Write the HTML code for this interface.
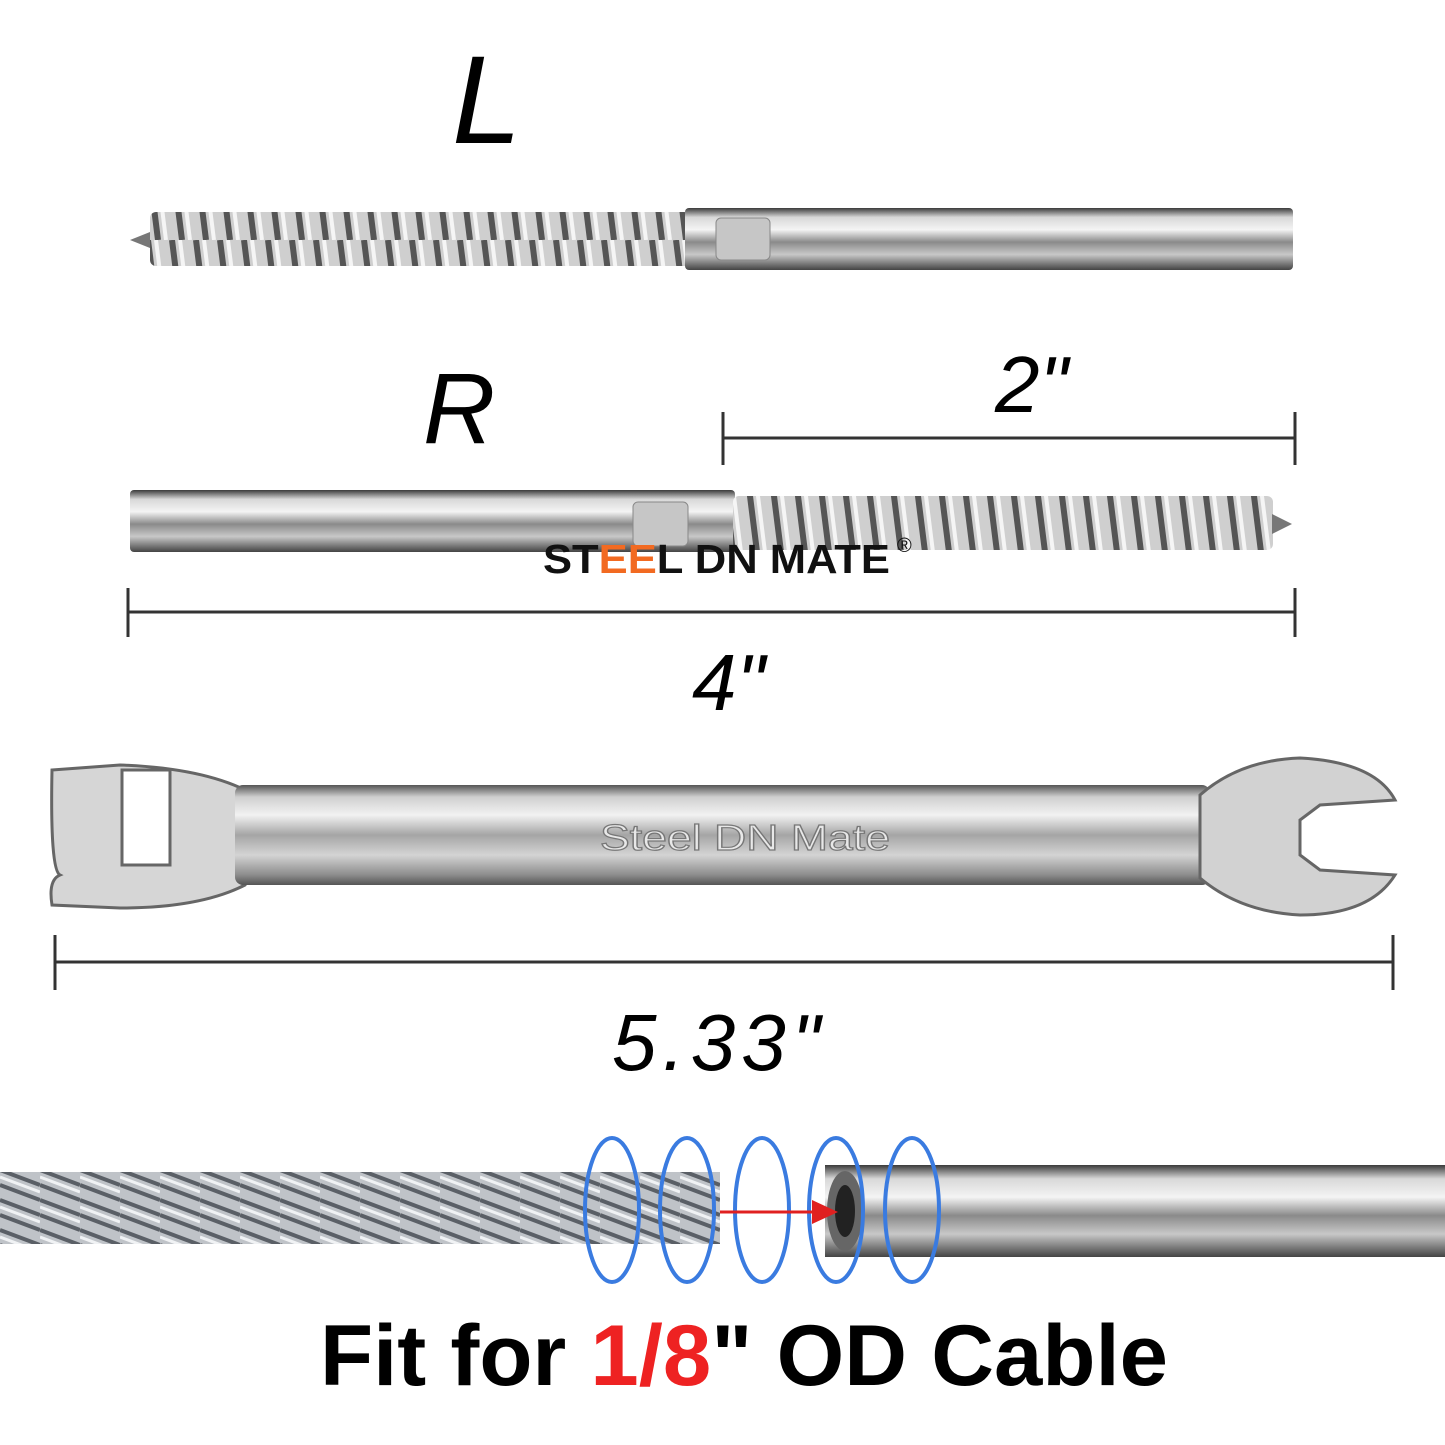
<!DOCTYPE html>
<html><head><style>
html,body{margin:0;padding:0;background:#fff}
svg{display:block}
</style></head><body>
<svg width="1445" height="1445" viewBox="0 0 1445 1445" xmlns="http://www.w3.org/2000/svg">
<defs>
<linearGradient id="tube" x1="0" y1="0" x2="0" y2="1">
<stop offset="0" stop-color="#3a3a3a"/><stop offset="0.15" stop-color="#d8d8d8"/><stop offset="0.35" stop-color="#f4f4f4"/><stop offset="0.55" stop-color="#8a8a8a"/><stop offset="0.75" stop-color="#c8c8c8"/><stop offset="1" stop-color="#444"/>
</linearGradient>
<linearGradient id="bar" x1="0" y1="0" x2="0" y2="1">
<stop offset="0" stop-color="#555"/><stop offset="0.12" stop-color="#cfcfcf"/><stop offset="0.3" stop-color="#f2f2f2"/><stop offset="0.5" stop-color="#a5a5a5"/><stop offset="0.7" stop-color="#d4d4d4"/><stop offset="0.9" stop-color="#8c8c8c"/><stop offset="1" stop-color="#555"/>
</linearGradient>
<pattern id="thr" width="24" height="80" patternUnits="userSpaceOnUse">
<rect width="24" height="80" fill="#cfcfcf"/>
<path d="M4 0 L14 80" stroke="#555" stroke-width="6"/>
<path d="M12 0 L22 80" stroke="#f5f5f5" stroke-width="4"/>
</pattern>
<pattern id="cab" width="40" height="90" patternUnits="userSpaceOnUse">
<rect width="40" height="90" fill="#bfc3c8"/>
<path d="M0 0 L40 15 M0 15 L40 30 M0 30 L40 45 M0 45 L40 60 M0 60 L40 75 M0 75 L40 90" stroke="#5a5f66" stroke-width="4"/>
<path d="M0 7 L40 22 M0 37 L40 52 M0 67 L40 82" stroke="#f0f2f4" stroke-width="3"/>
</pattern>
</defs>

<g font-family="Liberation Sans, sans-serif" font-style="italic" fill="#000">
<text x="452" y="143" font-size="125">L</text>
<text x="423" y="443" font-size="100">R</text>
<text x="995" y="412" font-size="80">2"</text>
<text x="692" y="710" font-size="80">4"</text>
<text x="612" y="1070" font-size="80" letter-spacing="6">5.33"</text>
</g>

<polygon points="130,240 150,232 150,248" fill="#777"/>
<rect x="150" y="212" width="540" height="54" fill="url(#thr)" rx="6"/>
<rect x="685" y="208" width="608" height="62" fill="url(#tube)" rx="4"/>
<rect x="716" y="218" width="54" height="42" fill="#c6c6c6" rx="5" stroke="#888"/>

<line x1="723" y1="438" x2="1295" y2="438" stroke="#333" stroke-width="3"/>
<line x1="723" y1="412" x2="723" y2="465" stroke="#333" stroke-width="3"/>
<line x1="1295" y1="412" x2="1295" y2="465" stroke="#333" stroke-width="3"/>

<rect x="130" y="490" width="605" height="62" fill="url(#tube)" rx="4"/>
<rect x="633" y="502" width="55" height="44" fill="#c6c6c6" rx="5" stroke="#888"/>
<rect x="733" y="496" width="540" height="54" fill="url(#thr)" rx="6"/>
<polygon points="1272,514 1292,524 1272,534" fill="#777"/>

<text x="543" y="573" font-family="Liberation Sans, sans-serif" font-weight="bold" font-size="41" fill="#111" textLength="347" lengthAdjust="spacingAndGlyphs">ST<tspan fill="#f26a21">EE</tspan>L DN MATE</text>
<text x="897" y="552" font-family="Liberation Sans, sans-serif" font-size="20" fill="#111">®</text>

<line x1="128" y1="612" x2="1295" y2="612" stroke="#333" stroke-width="3"/>
<line x1="128" y1="588" x2="128" y2="637" stroke="#333" stroke-width="3"/>
<line x1="1295" y1="588" x2="1295" y2="637" stroke="#333" stroke-width="3"/>

<path d="M52 770 L120 765 Q200 768 245 790 L245 885 Q200 908 120 908 L52 905 Q48 880 60 875 Q50 870 52 770 Z" fill="#d6d6d6" stroke="#666" stroke-width="3"/>
<rect x="122" y="770" width="48" height="95" fill="#fff" stroke="#666" stroke-width="3"/>
<rect x="235" y="785" width="975" height="100" fill="url(#bar)" rx="8"/>
<path d="M1200 795 Q1240 760 1300 758 Q1375 762 1395 800 L1320 805 L1300 820 L1300 855 L1320 870 L1395 875 Q1370 915 1300 915 Q1240 912 1200 878 Z" fill="#d2d2d2" stroke="#666" stroke-width="3"/>
<text x="600" y="850" font-family="Liberation Sans, sans-serif" font-size="36" fill="#e8e8e8" stroke="#777" stroke-width="1.2" textLength="290" lengthAdjust="spacingAndGlyphs">Steel DN Mate</text>

<line x1="55" y1="962" x2="1393" y2="962" stroke="#333" stroke-width="3"/>
<line x1="55" y1="935" x2="55" y2="990" stroke="#333" stroke-width="3"/>
<line x1="1393" y1="935" x2="1393" y2="990" stroke="#333" stroke-width="3"/>

<rect x="0" y="1172" width="720" height="72" fill="url(#cab)"/>
<rect x="825" y="1165" width="620" height="92" fill="url(#tube)"/>
<ellipse cx="845" cy="1211" rx="18" ry="40" fill="#666"/>
<ellipse cx="845" cy="1211" rx="10" ry="26" fill="#222"/>
<g fill="none" stroke="#3a7be0" stroke-width="4">
<ellipse cx="612" cy="1210" rx="27" ry="72"/>
<ellipse cx="687" cy="1210" rx="27" ry="72"/>
<ellipse cx="762" cy="1210" rx="27" ry="72"/>
<ellipse cx="836" cy="1210" rx="27" ry="72"/>
<ellipse cx="912" cy="1210" rx="27" ry="72"/>
</g>
<line x1="720" y1="1212" x2="815" y2="1212" stroke="#e02020" stroke-width="3"/>
<polygon points="812,1200 838,1212 812,1224" fill="#e02020"/>

<text x="320" y="1385" font-family="Liberation Sans, sans-serif" font-weight="bold" font-size="86" fill="#000" textLength="848" lengthAdjust="spacingAndGlyphs">Fit for <tspan fill="#e22">1/8</tspan>" OD Cable</text>
</svg>
</body></html>
